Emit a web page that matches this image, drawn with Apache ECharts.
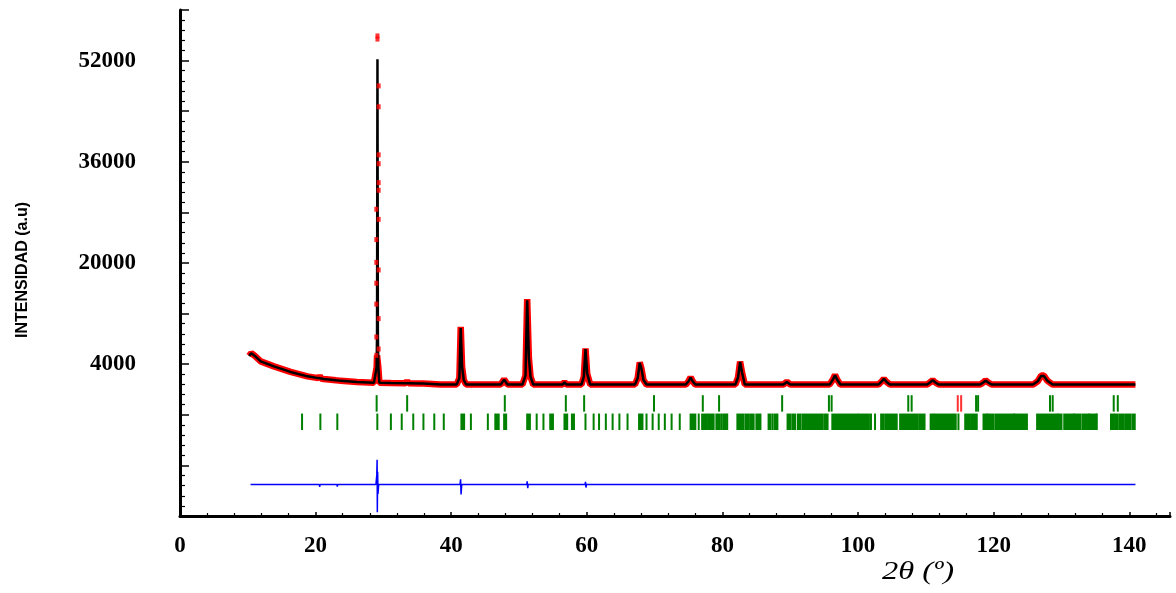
<!DOCTYPE html>
<html>
<head>
<meta charset="utf-8">
<title>Refinamiento Rietveld</title>
<script src="https://cdn.jsdelivr.net/npm/echarts@6.0.0/dist/echarts.min.js"></script>
<style>
  html, body { margin: 0; padding: 0; background: #fff; }
  #chart { width: 1176px; height: 593px; }
</style>
</head>
<body>
<div id="chart"></div>
<script>
// --- Data ---

// profile: 2theta, calculated and observed intensity (observed main peak apex drawn as dots)
var profileX = [10.2, 10.5, 11.0, 11.9, 13.85, 16.3, 18.8, 20.4, 20.6, 20.8, 21.2, 23.0, 23.2, 23.4, 23.7, 26.1, 28.6,
  28.85, 29.0, 29.06, 29.12, 29.18, 29.25, 29.4, 31.1, 33.3, 33.5, 33.7, 35.5, 35.7, 35.9, 36.0, 38.4,
  40.8, 41.2, 41.4, 41.6, 41.85, 42.2, 47.3, 47.8, 48.3,
  50.5, 50.95, 51.2, 51.45, 51.7, 52.1, 56.4, 56.7, 57.0,
  59.2, 59.55, 59.8, 60.05, 60.5, 67.1, 67.5, 67.8, 68.05, 68.35, 68.8,
  74.6, 75.0, 75.3, 75.6, 76.0, 81.9, 82.3, 82.6, 82.9, 83.3, 89.0, 89.5, 90.0,
  95.8, 96.3, 96.6, 96.95, 97.4, 103.0, 103.5, 103.8, 104.2, 104.7,
  110.2, 110.7, 111.0, 111.4, 111.9, 118.0, 118.5, 118.8, 119.2, 119.7,
  125.8, 126.5, 127.0, 127.4, 127.9, 128.7, 140.9];
var calcY = [5300, 5750, 5350, 4450, 3660, 2780, 2080, 1800, 2100, 1750, 1670, 1450, 1700, 1420, 1400, 1200, 1060,
  1100, 3500, 9000, 52200, 9000, 3500, 1080, 1040, 1000, 1300, 1000, 940, 1100, 930, 930, 780,
  790, 1800, 9700, 3600, 1500, 790, 780, 1560, 780,
  780, 2200, 14100, 5000, 2000, 780, 780, 1130, 780,
  780, 2000, 6400, 2500, 780, 780, 1800, 4200, 3300, 1500, 780,
  780, 1300, 1900, 1300, 780, 780, 1900, 4350, 2600, 780, 780, 1200, 780,
  780, 1600, 2240, 1500, 780, 780, 1300, 1670, 1200, 780,
  780, 1200, 1450, 1100, 780, 780, 1150, 1400, 1100, 780,
  780, 1300, 2150, 2150, 1400, 780, 780];
var obsY = [5300, 5750, 5350, 4450, 3660, 2780, 2080, 1800, 2150, 1750, 1670, 1450, 1750, 1420, 1400, 1200, 1060,
  1100, 3500, 5400, 5400, 5400, 3500, 1080, 1040, 1000, 1350, 1000, 940, 1150, 930, 930, 780,
  790, 1800, 9900, 3600, 1500, 790, 780, 1600, 780,
  780, 2200, 14300, 5000, 2000, 780, 780, 1150, 780,
  780, 2000, 6500, 2500, 780, 780, 1800, 4300, 3300, 1500, 780,
  780, 1300, 1950, 1300, 780, 780, 1900, 4400, 2600, 780, 780, 1250, 780,
  780, 1600, 2300, 1500, 780, 780, 1300, 1700, 1200, 780,
  780, 1200, 1500, 1100, 780, 780, 1150, 1450, 1100, 780,
  780, 1300, 2200, 2200, 1400, 780, 780];

// observed points on the flanks of the strongest reflection
var peakDotsX = [29.3, 29.3, 29.3, 29.3, 29.3, 29.3, 28.95, 29.3, 28.95, 28.95, 29.3, 28.95, 28.95, 29.3, 28.95, 29.3, 28.95, 29.12, 29.12];
var peakDotsY = [48000, 44700, 37100, 35700, 32700, 31500, 28500, 26900, 23700, 20100, 18900, 16800, 13500, 11200, 8300, 6400, 5400, 55400, 55900];

// difference (Iobs - Icalc), offset below the pattern
var diffX = [10.4, 20.55, 20.6, 20.65, 23.15, 23.2, 23.25, 28.9, 29.02, 29.07, 29.1, 29.15, 29.2, 29.3,
  41.3, 41.38, 41.45, 41.55, 51.15, 51.2, 51.28, 51.35, 59.75, 59.8, 59.87, 59.95,
  67.75, 67.8, 67.9, 82.55, 82.6, 82.7, 96.55, 96.6, 96.7, 140.9];
var diffY = [-15000, -15000, -15400, -15000, -15000, -15350, -15000, -15000, -13500, -11100, -19400, -13000, -16500, -15000,
  -15000, -14200, -16600, -15000, -15000, -14500, -15600, -15000, -15000, -14600, -15500, -15000,
  -15000, -15300, -15000, -15000, -15250, -15000, -15000, -15300, -15000, -15000];

// Bragg positions, phase 1 (upper row) and the red pair on that row
var braggRow1 = [29.0, 33.5, 47.9, 56.9, 59.6, 69.9, 77.1, 79.5, 88.8, 95.7, 96.1, 107.4, 107.9,
  117.4, 117.7, 128.3, 128.7, 137.7, 138.3];
var braggRed = [114.7, 115.2];

// Bragg positions, phase 2 (lower row): [from, to], single reflections have from == to
var braggRow2 = [[18.0, 18.0], [20.7, 20.7], [23.2, 23.2], [29.1, 29.1], [31.1, 31.1], [32.7, 32.7], [34.4, 34.4],
  [35.9, 35.9], [37.5, 37.5], [38.9, 38.9], [41.5, 41.9], [42.9, 42.9], [45.4, 45.4], [46.5, 47.0], [47.8, 48.1],
  [51.2, 51.6], [52.6, 52.6], [53.6, 53.6], [54.6, 55.0], [56.7, 57.1], [57.8, 58.1], [59.8, 59.8], [61.0, 61.0],
  [61.8, 61.8], [62.8, 62.8], [63.8, 63.8], [64.8, 64.8], [66.0, 66.0], [67.7, 68.2], [68.8, 68.8], [69.7, 69.7],
  [70.6, 70.6], [71.5, 71.5], [72.5, 72.5], [73.7, 73.7], [75.3, 76.0], [76.5, 76.5], [77.0, 77.7], [77.9, 78.7],
  [79.1, 79.5], [79.8, 79.8], [80.1, 80.5], [80.7, 80.7], [82.2, 83.1], [83.4, 83.9], [84.2, 84.6], [85.0, 85.6],
  [86.8, 87.1], [87.4, 87.4], [87.7, 88.1], [89.6, 90.0], [90.3, 90.7], [91.1, 91.5], [91.8, 94.7], [95.0, 95.5],
  [96.2, 99.9], [100.1, 101.6], [101.9, 101.9], [102.5, 102.5], [103.4, 103.8], [104.1, 105.7], [106.2, 108.7],
  [109.0, 109.8], [110.7, 111.1], [111.3, 114.4], [114.8, 114.8], [115.8, 116.5], [116.8, 117.5], [118.5, 119.0],
  [119.1, 120.0], [120.3, 123.0], [123.1, 124.9], [126.4, 129.4], [129.5, 130.0], [130.4, 131.8], [131.9, 132.8],
  [133.1, 134.0], [134.1, 135.1], [135.2, 135.2], [137.3, 137.7], [137.9, 138.2], [138.5, 139.2], [139.5, 140.2],
  [140.5, 140.8]];

var yLabelValues = [4000, 20000, 36000, 52000];
var xLabelValues = [0, 20, 40, 60, 80, 100, 120, 140];

(function () {
  'use strict';

  // vertical bands of the two tick rows, in intensity units
  var ROW1 = [-3500, -900];
  var ROW2 = [-6400, -3800];
  var GREEN = '#008000';

  function zip(xs, ys) {
    return xs.map(function (x, i) { return [x, ys[i]]; });
  }

  function tickItems(list, row) {
    return list.map(function (p) {
      var a = Array.isArray(p) ? p[0] : p;
      var b = Array.isArray(p) ? p[1] : p;
      return [a, b, row[0], row[1]];
    });
  }

  function renderTick(color) {
    return function (params, api) {
      var top = api.coord([api.value(0), api.value(3)]);
      var bot = api.coord([api.value(1), api.value(2)]);
      var w = Math.max(bot[0] - top[0] + 2, 2);
      return {
        type: 'rect',
        shape: { x: top[0] - 1, y: top[1], width: w, height: bot[1] - top[1] },
        style: { fill: color }
      };
    };
  }

  var labelFont = {
    fontFamily: '"Liberation Serif", "Times New Roman", serif',
    fontWeight: 'bold',
    fontSize: 23,
    color: '#000'
  };

  var chart = echarts.init(document.getElementById('chart'), null, { renderer: 'canvas' });

  var option = {
    animation: false,
    backgroundColor: '#fff',
    grid: { left: 180, right: 6, top: 10, bottom: 77 },
    xAxis: {
      type: 'value',
      min: 0,
      max: 146,
      interval: 20,
      axisLine: { onZero: false, lineStyle: { color: '#000', width: 3 } },
      axisTick: { inside: true, length: 4, lineStyle: { color: '#000', width: 1.5 } },
      minorTick: { show: true, splitNumber: 5, length: 3, lineStyle: { color: '#000', width: 1.2 } },
      splitLine: { show: false },
      axisLabel: Object.assign({
        margin: 19,
        formatter: function (v) { return xLabelValues.indexOf(v) >= 0 ? String(v) : ''; }
      }, labelFont)
    },
    yAxis: {
      type: 'value',
      min: -20000,
      max: 60000,
      interval: 8000,
      axisLine: { show: true, onZero: false, lineStyle: { color: '#000', width: 3 } },
      axisTick: { show: true, inside: true, length: 9, lineStyle: { color: '#000', width: 1.5 } },
      minorTick: { show: true, splitNumber: 5, length: 5, lineStyle: { color: '#000', width: 1.2 } },
      splitLine: { show: false },
      axisLabel: Object.assign({
        margin: 44,
        formatter: function (v) { return yLabelValues.indexOf(v) >= 0 ? String(v) : ''; }
      }, labelFont)
    },
    graphic: [
      {
        type: 'text',
        x: 23,
        y: 270,
        rotation: Math.PI / 2,
        style: {
          text: 'INTENSIDAD (a.u)',
          fontFamily: '"Liberation Sans", Arial, sans-serif',
          fontWeight: 'bold',
          fontSize: 16,
          fill: '#000',
          align: 'center',
          verticalAlign: 'middle'
        }
      },
      {
        type: 'text',
        x: 918,
        y: 572,
        scaleX: 1.25,
        style: {
          text: '2θ (º)',
          fontFamily: '"Liberation Serif", "Times New Roman", serif',
          fontStyle: 'italic',
          fontSize: 26,
          fill: '#000',
          align: 'center',
          verticalAlign: 'middle'
        }
      }
    ],
    series: [
      {
        name: 'Iobs',
        type: 'line',
        data: zip(profileX, obsY),
        showSymbol: false,
        lineStyle: { color: '#ff0000', width: 6.5 },
        silent: true,
        z: 2
      },
      {
        name: 'Icalc',
        type: 'line',
        data: zip(profileX, calcY),
        showSymbol: false,
        lineStyle: { color: '#000', width: 2.5 },
        silent: true,
        z: 3
      },
      {
        name: 'Iobs dots',
        type: 'scatter',
        data: zip(peakDotsX, peakDotsY),
        symbol: 'rect',
        symbolSize: [4, 5],
        itemStyle: { color: '#ff0000' },
        silent: true,
        z: 4
      },
      {
        name: 'Iobs-Icalc',
        type: 'line',
        data: zip(diffX, diffY),
        showSymbol: false,
        lineStyle: { color: '#0000ff', width: 1.5 },
        silent: true,
        z: 3
      },
      {
        name: 'Bragg 1',
        type: 'custom',
        data: tickItems(braggRow1, ROW1),
        encode: { x: [0, 1], y: [2, 3] },
        renderItem: renderTick(GREEN),
        silent: true
      },
      {
        name: 'Bragg 1b',
        type: 'custom',
        data: tickItems(braggRed, ROW1),
        encode: { x: [0, 1], y: [2, 3] },
        renderItem: renderTick('#ff3030'),
        silent: true
      },
      {
        name: 'Bragg 2',
        type: 'custom',
        data: tickItems(braggRow2, ROW2),
        encode: { x: [0, 1], y: [2, 3] },
        renderItem: renderTick(GREEN),
        silent: true
      }
    ]
  };

  chart.setOption(option);
})();
</script>
</body>
</html>
